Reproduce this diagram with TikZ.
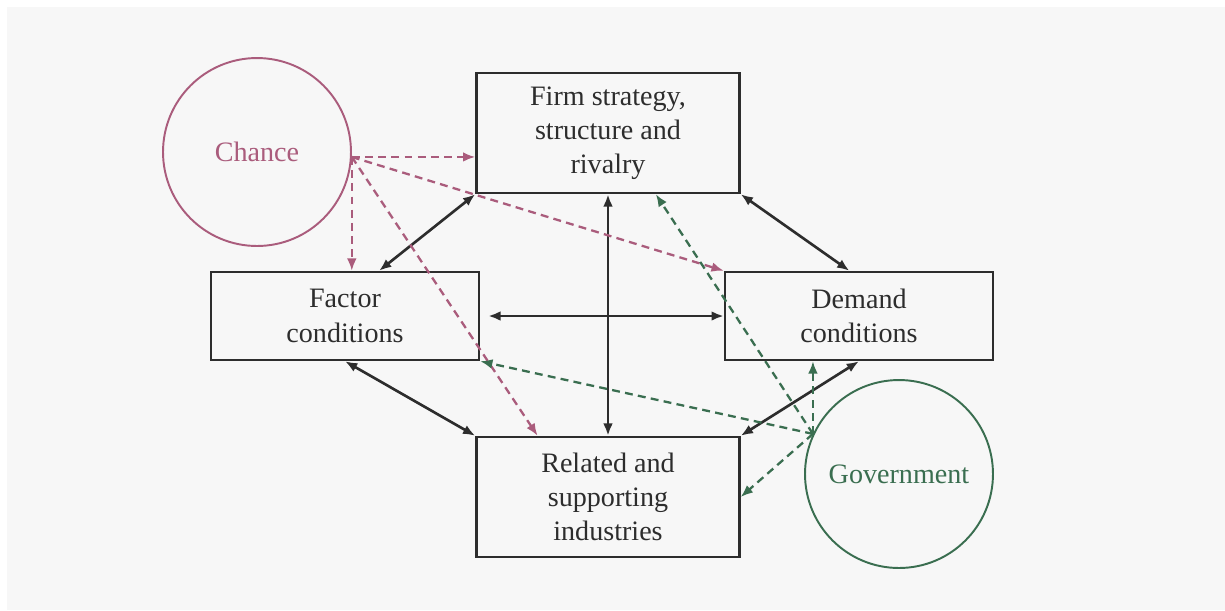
\documentclass[tikz,border=0pt]{standalone}
\usepackage{fontspec}
\setmainfont{Liberation Serif}
\usetikzlibrary{arrows.meta}
\tikzset{>={Latex[length=7pt,width=5.5pt]}}
\definecolor{bgcol}{RGB}{247,247,247}
\definecolor{inkcol}{RGB}{45,45,45}
\definecolor{chancecol}{RGB}{170,92,124}
\definecolor{govcol}{RGB}{58,110,80}
\tikzset{
  diamondbox/.style={draw=inkcol,line width=1.4pt,align=center,inner sep=0pt,
    text=inkcol,font=\fontsize{16}{19.5}\selectfont},
  outerforce/.style={circle,draw,line width=1.1pt,minimum size=3.76cm,inner sep=0pt,
    font=\fontsize{16}{19.5}\selectfont},
  link/.style={<->,line width=1.5pt,inkcol},
  chancelink/.style={->,line width=1.3pt,chancecol,dash pattern=on 4.5pt off 3pt},
  govlink/.style={->,line width=1.3pt,govcol,dash pattern=on 4.5pt off 3pt},
}

\begin{document}
\begin{tikzpicture}[x=0.02cm,y=-0.02cm]
  \fill[white] (0,0) rectangle (1225,610);
  \fill[bgcol] (7,7) rectangle (1225,610);
  % the four determinants
  \node[diamondbox,minimum width=5.26cm,minimum height=2.4cm] (Firm) at (608,133)
    {Firm strategy,\\structure and\\rivalry};
  \node[diamondbox,minimum width=5.36cm,minimum height=1.76cm] (Factor) at (345,316)
    {Factor\\conditions};
  \node[diamondbox,minimum width=5.36cm,minimum height=1.76cm] (Demand) at (859,316)
    {Demand\\conditions};
  \node[diamondbox,minimum width=5.26cm,minimum height=2.4cm] (Related) at (608,497)
    {Related and\\supporting\\industries};
  % outside influences
  \node[outerforce,draw=chancecol,text=chancecol] (Chance) at (257,152) {Chance};
  \node[outerforce,draw=govcol,text=govcol] (Gov) at (899,474) {Government};
  \coordinate (chanceout) at (Chance.-3);
  \coordinate (govout) at (Gov.155);

  \draw[link] (Firm.south west) -- (Factor.53);
  \draw[link] (Firm.south east) -- (Demand.102);
  \draw[link] (Firm.south) -- (Related.north);
  \draw[link,shorten <=0.16cm] (Factor.east) -- (Demand.west);
  \draw[link] (Factor.south) -- (Related.north west);
  \draw[link] (Demand.south) -- (Related.north east);

  \draw[chancelink] (chanceout) -- (chanceout -| Firm.west);
  \draw[chancelink] (chanceout) -- (chanceout |- Factor.north);
  \draw[chancelink] (chanceout) -- (Demand.north west);
  \draw[chancelink] (chanceout) -- (Related.139);

  \draw[govlink] (govout) -- (Firm.-52);
  \draw[govlink] (govout) -- (Factor.south east);
  \draw[govlink] (govout) -- (govout |- Demand.south);
  \draw[govlink] (govout) -- (Related.east);
\end{tikzpicture}
\end{document}
